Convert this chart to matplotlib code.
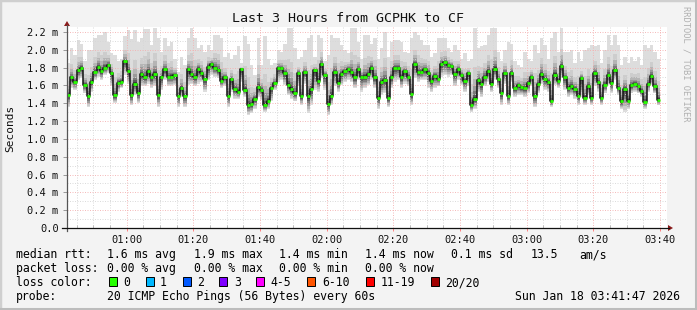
"""
smokeping style latency chart: last 3 hours GCPHK -> CF
"""
import numpy as np
import matplotlib
matplotlib.use("Agg")
import matplotlib.pyplot as plt
from matplotlib.lines import Line2D
from matplotlib.patches import Polygon, Rectangle
from matplotlib.ticker import MultipleLocator, FuncFormatter

# --- data (ms, one sample per minute, starting 00:43) ----------------------
FIRST_MINUTE = 43

median_ms = [
    1.49, 1.69, 1.64, 1.77, 1.80, 1.61, 1.48, 1.64, 1.75, 1.81, 1.76, 1.80, 1.83, 1.74, 1.49, 1.63, 1.64, 1.87,
    1.76, 1.49, 1.62, 1.51, 1.73, 1.69, 1.76, 1.69, 1.73, 1.49, 1.69, 1.78, 1.70, 1.70, 1.72, 1.48, 1.57, 1.48,
    1.78, 1.73, 1.69, 1.79, 1.74, 1.67, 1.81, 1.84, 1.80, 1.77, 1.65, 1.69, 1.48, 1.67, 1.56, 1.53, 1.78, 1.55,
    1.38, 1.39, 1.45, 1.58, 1.55, 1.38, 1.43, 1.57, 1.63, 1.80, 1.80, 1.74, 1.61, 1.56, 1.51, 1.74, 1.48, 1.75,
    1.48, 1.56, 1.77, 1.65, 1.84, 1.72, 1.39, 1.48, 1.75, 1.63, 1.73, 1.76, 1.79, 1.75, 1.69, 1.78, 1.70, 1.70,
    1.73, 1.80, 1.69, 1.46, 1.64, 1.66, 1.46, 1.69, 1.80, 1.80, 1.69, 1.76, 1.70, 1.50, 1.84, 1.75, 1.75, 1.78,
    1.74, 1.65, 1.71, 1.67, 1.84, 1.86, 1.83, 1.82, 1.73, 1.78, 1.72, 1.65, 1.74, 1.38, 1.45, 1.66, 1.62, 1.70,
    1.76, 1.62, 1.79, 1.67, 1.51, 1.74, 1.48, 1.74, 1.57, 1.60, 1.58, 1.57, 1.63, 1.70, 1.48, 1.62, 1.73, 1.67,
    1.64, 1.42, 1.72, 1.65, 1.82, 1.69, 1.57, 1.59, 1.56, 1.48, 1.68, 1.46, 1.59, 1.46, 1.74, 1.64, 1.46, 1.61,
    1.72, 1.63, 1.77, 1.57, 1.42, 1.56, 1.43, 1.60, 1.62, 1.59, 1.54, 1.41, 1.62, 1.71, 1.59, 1.44,
]

# slowest ping of each round (top of the smoke)
smoke_hi_ms = [
    1.85, 2.02, 1.94, 2.11, 2.07, 1.87, 2.00, 2.00, 2.13, 2.17, 2.17, 2.20, 2.09, 1.96, 1.94, 1.87, 1.90, 2.15,
    2.22, 2.12, 2.22, 2.09, 2.13, 2.23, 2.23, 2.05, 2.25, 2.13, 1.98, 2.13, 2.04, 2.09, 1.90, 1.75, 1.92, 1.83,
    2.13, 2.24, 2.13, 2.02, 2.05, 1.98, 2.05, 2.00, 2.17, 2.17, 2.13, 1.92, 1.96, 1.90, 1.94, 2.04, 1.85, 2.15,
    2.07, 1.83, 1.72, 2.13, 1.83, 2.15, 1.90, 1.83, 1.85, 2.00, 1.98, 2.07, 2.24, 2.24, 2.02, 1.90, 1.92, 2.00,
    2.13, 2.17, 1.92, 2.17, 2.13, 1.87, 1.94, 2.17, 2.13, 2.13, 2.05, 2.00, 1.96, 2.24, 2.24, 2.09, 1.90, 2.17,
    2.17, 2.07, 2.13, 1.90, 2.02, 2.20, 1.92, 2.09, 2.11, 2.11, 2.09, 1.98, 1.96, 2.13, 2.20, 2.17, 2.11, 2.05,
    2.05, 1.92, 1.96, 2.13, 2.13, 2.13, 2.02, 1.98, 2.05, 2.00, 1.90, 1.96, 1.87, 1.90, 2.24, 2.02, 2.04, 2.05,
    2.17, 2.24, 2.24, 1.98, 1.87, 2.00, 2.09, 2.07, 1.87, 1.83, 1.81, 1.98, 1.90, 1.87, 2.05, 1.96, 2.13, 2.05,
    1.90, 2.13, 2.20, 1.98, 2.24, 1.98, 1.98, 2.00, 1.85, 1.98, 1.87, 2.00, 2.02, 2.05, 2.04, 2.05, 1.85, 2.00,
    2.17, 2.05, 2.17, 2.05, 1.83, 1.92, 1.85, 1.92, 1.87, 1.92, 1.83, 2.05, 2.02, 2.05, 1.98, 1.90,
]

# fastest ping of each round (bottom of the smoke)
smoke_lo_ms = [
    1.36, 1.57, 1.55, 1.66, 1.68, 1.51, 1.36, 1.53, 1.66, 1.70, 1.66, 1.72, 1.74, 1.59, 1.40, 1.53, 1.57, 1.72,
    1.62, 1.38, 1.49, 1.40, 1.59, 1.59, 1.62, 1.57, 1.59, 1.36, 1.55, 1.66, 1.59, 1.59, 1.60, 1.36, 1.47, 1.36,
    1.60, 1.62, 1.59, 1.62, 1.64, 1.53, 1.66, 1.72, 1.70, 1.68, 1.57, 1.59, 1.36, 1.53, 1.45, 1.45, 1.64, 1.47,
    1.27, 1.29, 1.34, 1.47, 1.44, 1.30, 1.34, 1.42, 1.55, 1.64, 1.66, 1.60, 1.49, 1.45, 1.42, 1.59, 1.38, 1.62,
    1.29, 1.38, 1.55, 1.53, 1.68, 1.55, 1.27, 1.38, 1.59, 1.53, 1.60, 1.64, 1.66, 1.64, 1.57, 1.66, 1.53, 1.57,
    1.60, 1.66, 1.57, 1.34, 1.49, 1.51, 1.36, 1.57, 1.64, 1.66, 1.57, 1.62, 1.59, 1.38, 1.68, 1.64, 1.66, 1.66,
    1.57, 1.53, 1.57, 1.59, 1.70, 1.72, 1.70, 1.72, 1.59, 1.66, 1.60, 1.53, 1.59, 1.30, 1.34, 1.53, 1.47, 1.59,
    1.64, 1.53, 1.66, 1.57, 1.38, 1.62, 1.38, 1.64, 1.47, 1.49, 1.49, 1.47, 1.51, 1.59, 1.36, 1.51, 1.62, 1.55,
    1.53, 1.36, 1.60, 1.57, 1.68, 1.55, 1.47, 1.49, 1.45, 1.38, 1.47, 1.38, 1.49, 1.38, 1.59, 1.53, 1.38, 1.51,
    1.60, 1.51, 1.66, 1.49, 1.34, 1.30, 1.34, 1.51, 1.53, 1.51, 1.47, 1.34, 1.53, 1.60, 1.51, 1.38,
]

loss_labels = ["0", "1", "2", "3", "4-5", "6-10", "11-19", "20/20"]
loss_colors = ["#26ff00", "#00b8ff", "#0059ff", "#7e00ff", "#ff00ff", "#ff5500", "#ff0000", "#a10000"]

rtt_stats  = ["1.6 ms avg", "1.9 ms max", "1.4 ms min", "1.4 ms now", "0.1 ms sd", "13.5", "am/s"]
loss_stats = ["0.00 % avg", "0.00 % max", "0.00 % min", "0.00 % now"]

# --- figure geometry (pixels) ----------------------------------------------
W, H = 697, 310
def fx(px): return px / W
def fy(py): return 1 - py / H

MONO = "DejaVu Sans Mono"
plt.rcParams["font.family"] = MONO

fig = plt.figure(figsize=(W / 100, H / 100), dpi=100, facecolor="#f3f3f3")
ax = fig.add_axes([fx(67), fy(228), 600 / W, (228 - 27) / H])
ax.set_facecolor("white")

t   = np.arange(len(median_ms)) + FIRST_MINUTE
med = np.array(median_ms)
hi  = np.array(smoke_hi_ms)
lo  = np.array(smoke_lo_ms)

# --- smoke: nested bands, darker towards the median -----------------------
layers = [  # (share of spread above, share below, colour)
    (1.00, 1.00, "#dddddd"),
    (0.45, 0.90, "#cdcdcd"),
    (0.28, 0.75, "#b5b5b5"),
    (0.18, 0.60, "#9a9a9a"),
    (0.11, 0.45, "#7b7b7b"),
    (0.06, 0.30, "#5a5a5a"),
    (0.03, 0.15, "#3a3a3a"),
]
for up, down, col in layers:
    top = med + up * (hi - med)
    bot = med - down * (med - lo)
    ax.bar(t - 0.5, top - bot, bottom=bot, width=1.0, color=col,
           linewidth=0, antialiased=False, zorder=1)

# median: black step line with loss-coloured flats
ax.step(t - 0.5, med, where="mid", color="#111111", lw=1.1, zorder=3)
ax.hlines(med, t - 1, t, colors=loss_colors[0], lw=2.0, zorder=4)

# --- axes -------------------------------------------------------------------
ax.set_xlim(42.1, 222.1)
ax.set_ylim(0, 2.256)
for s in ax.spines.values():
    s.set_visible(False)

ax.xaxis.set_major_locator(MultipleLocator(20))
ax.xaxis.set_minor_locator(MultipleLocator(5))
ax.yaxis.set_major_locator(MultipleLocator(0.2))
ax.yaxis.set_minor_locator(MultipleLocator(0.1))
ax.xaxis.set_major_formatter(FuncFormatter(lambda v, p: f"{int(round(v)) // 60:02d}:{int(round(v)) % 60:02d}"))
ax.yaxis.set_major_formatter(FuncFormatter(lambda v, p: "0.0" if abs(v) < 1e-9 else f"{v:.1f} m"))

ax.set_axisbelow("line")
ax.grid(which="minor", color="#d6d6d6", lw=0.6, ls=(0, (1.2, 1.8)))
ax.grid(which="major", color="#f4b0b0", lw=0.6, ls=(0, (1.2, 1.8)))

ax.tick_params(axis="x", which="major", direction="out", length=2.5, width=0.7,
               color="#ff8080", labelsize=7.5, pad=2.5, labelcolor="#111111")
ax.tick_params(axis="x", which="minor", direction="in", length=2, width=0.7, color="#bbbbbb")
ax.tick_params(axis="y", which="major", direction="out", length=3, width=0.7,
               color="#999999", labelsize=7.5, pad=3, labelcolor="#111111")
ax.tick_params(axis="y", which="minor", length=0)

# axis lines with arrow heads
AX_COL = "#555555"
ARROW = "#8b1a1a"
fig.add_artist(Line2D([fx(67), fx(67)], [fy(231), fy(25)], color=AX_COL, lw=0.9))
fig.add_artist(Line2D([fx(62), fx(669)], [fy(228), fy(228)], color="#111111", lw=0.9))
fig.add_artist(Polygon([(fx(64), fy(26)), (fx(70), fy(26)), (fx(67), fy(21))],
                       closed=True, color=ARROW, lw=0))
fig.add_artist(Polygon([(fx(668), fy(225)), (fx(668), fy(231)), (fx(673), fy(228))],
                       closed=True, color=ARROW, lw=0))

# --- texts --------------------------------------------------------------------
fig.text(fx(348), fy(19), "Last 3 Hours from GCPHK to CF", ha="center", va="center",
         fontsize=9.6, color="#111111")
fig.text(fx(10), fy(128), "Seconds", rotation=90, ha="center", va="center",
         fontsize=8, color="#111111")
fig.text(fx(686), fy(64), "RRDTOOL / TOBI OETIKER", rotation=-90, ha="center", va="center",
         fontsize=6.3, color="#b0b0b0")

LEG = 8.3
rows = [258, 272, 286, 300]
fig.text(fx(16), fy(rows[0]), "median rtt:", fontsize=LEG, va="baseline")
for x, s in zip([107.3, 194, 279.3, 365.3, 451.3, 530.7, 579.3], rtt_stats):
    fig.text(fx(x), fy(rows[0]), s, fontsize=LEG, va="baseline")

fig.text(fx(16), fy(rows[1]), "packet loss:", fontsize=LEG, va="baseline")
for x, s in zip([107.3, 194, 279.3, 365.3], loss_stats):
    fig.text(fx(x), fy(rows[1]), s, fontsize=LEG, va="baseline")

fig.text(fx(16), fy(rows[2]), "loss color:", fontsize=LEG, va="baseline")
box_x  = [108.7, 145.7, 182.7, 219.3, 256.0, 307.3, 365.7, 430.7]
text_x = [123.3, 160.0, 196.7, 234.0, 270.7, 322.0, 380.7, 445.3]
for bx, tx, lab, col in zip(box_x, text_x, loss_labels, loss_colors):
    fig.add_artist(Rectangle((fx(bx), fy(286)), 8 / W, 9 / H, facecolor=col,
                             edgecolor="#000000", lw=0.7))
    fig.text(fx(tx), fy(rows[2]), lab, fontsize=LEG, va="baseline")

fig.text(fx(16), fy(rows[3]), "probe:", fontsize=LEG, va="baseline")
fig.text(fx(107.3), fy(rows[3]), "20 ICMP Echo Pings (56 Bytes) every 60s", fontsize=LEG, va="baseline")
fig.text(fx(680), fy(rows[3]), "Sun Jan 18 03:41:47 2026", fontsize=LEG, va="baseline", ha="right")

# outer frame
fig.add_artist(Rectangle((0, 0), 1, 1, transform=fig.transFigure, fill=False,
                         edgecolor="#cfcfcf", lw=2.5))
fig.add_artist(Line2D([0, 1], [fy(309), fy(309)], color="#bcbcbc", lw=2.2))
fig.add_artist(Line2D([fx(696), fx(696)], [0, 1], color="#bcbcbc", lw=2.2))

fig.savefig("out.png", dpi=100, facecolor=fig.get_facecolor())
